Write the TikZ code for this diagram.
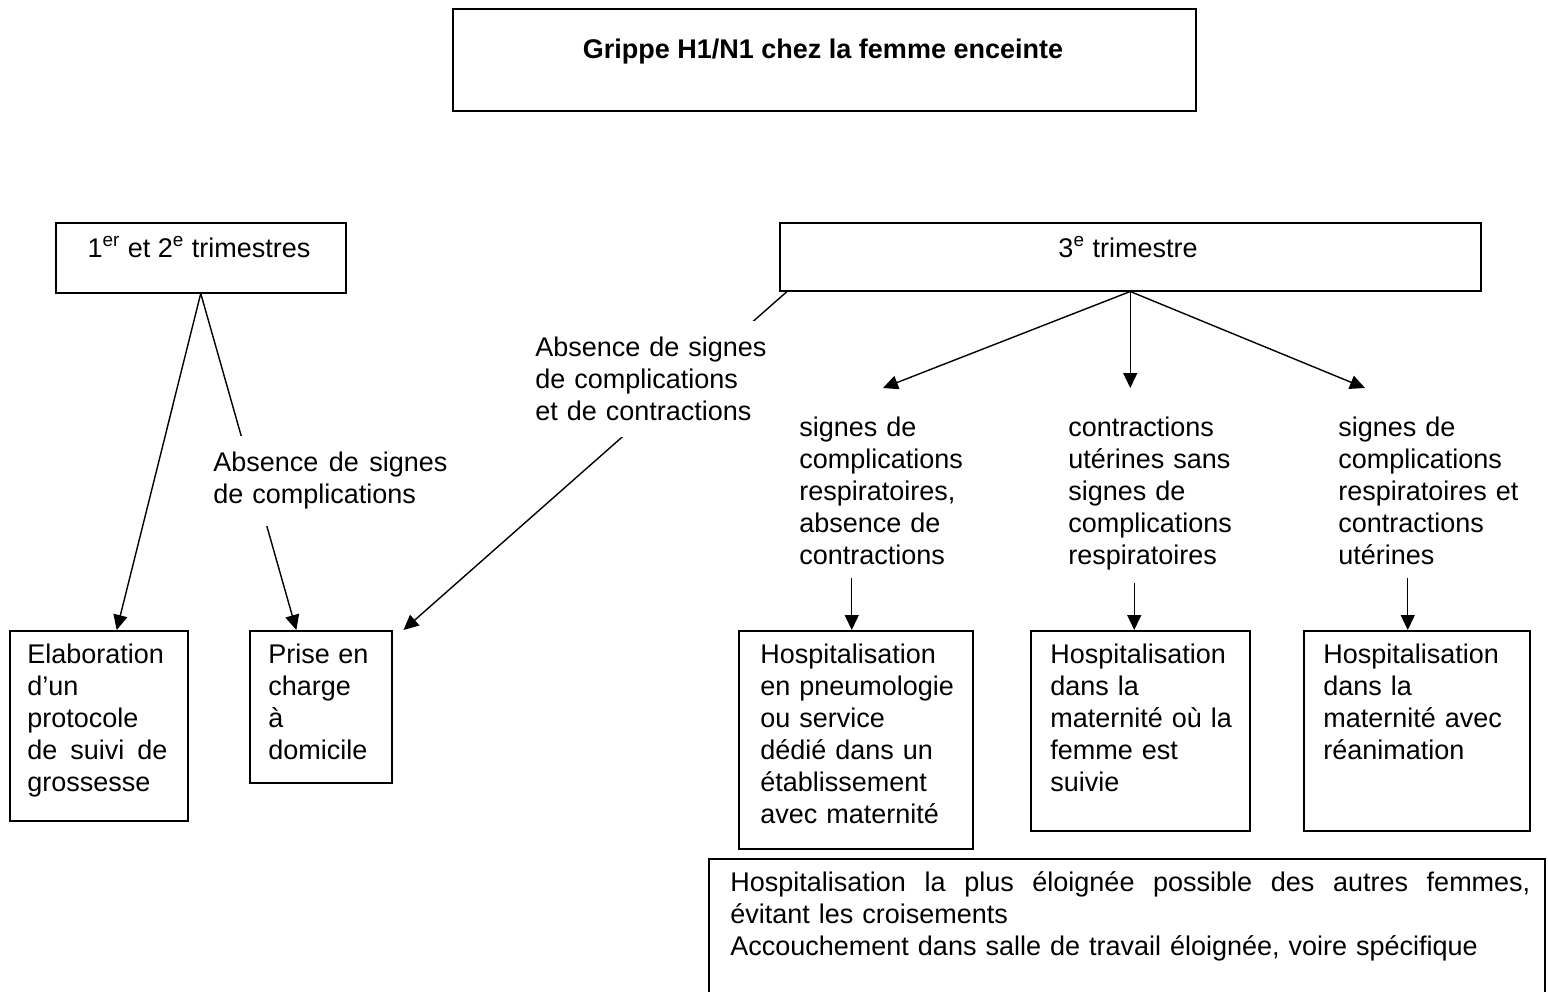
\documentclass[tikz,border=0pt]{standalone}
\usepackage{fontspec}
\setmainfont{Liberation Sans}
\usetikzlibrary{arrows.meta, calc}

\begin{document}
\begin{tikzpicture}[x=0.5pt, y=-0.5pt, >={Triangle[length=7.5pt,width=7pt]},
	box/.style={draw, line width=0.75pt, inner sep=0pt, anchor=north west},
	txt/.style={inner sep=0pt, anchor=north west, align=left, font=\fontsize{13.5}{16}\selectfont},
	lab/.style={txt, fill=white, inner ysep=8pt},
	arr/.style={->, line width=0.7pt}]
	\useasboundingbox (0,0) rectangle (1548,991);
	\clip (0,0) rectangle (1548,991);
	
	%boxes
	\node[box, minimum width=371.5pt, minimum height=51pt] (title) at (452,8)   {};
	\node[box, minimum width=145pt,   minimum height=35pt] (t12)   at (55,222)  {};
	\node[box, minimum width=350.5pt, minimum height=34pt] (t3)    at (779,222) {};
	\node[box, minimum width=89pt,    minimum height=95pt] (elab)  at (9,630)   {};
	\node[box, minimum width=71pt,    minimum height=76pt] (prise) at (249,630) {};
	\node[box, minimum width=117pt,   minimum height=109pt] (h1)   at (738,630) {};
	\node[box, minimum width=109.5pt, minimum height=100pt] (h2)   at (1030,630) {};
	\node[box, minimum width=113pt,   minimum height=100pt] (h3)   at (1303,630) {};
	\node[box, minimum width=418pt,   minimum height=75pt] (bot)   at (708,858) {};
	
	%box texts
	\node[txt, anchor=base] (titletxt) at (823,58) {\bfseries Grippe H1/N1 chez la femme enceinte};
	\node[txt, anchor=base] (t12txt) at (199,257) {1\textsuperscript{er} et 2\textsuperscript{e} trimestres};
	\node[txt, anchor=base] (t3txt)  at (1128,257) {3\textsuperscript{e} trimestre};
	\node[txt, text width=70pt] (elabtxt) at (27,644)
		{Elaboration\\d’un\\protocole\\de\hfill suivi\hfill de\\grossesse};
	\node[txt, text width=50pt] (prisetxt) at (268,644)
		{Prise\hfill en\\charge\\à\\domicile};
	\node[txt, text width=102pt] (h1txt) at (760,644)
		{Hospitalisation\\en pneumologie\\ou service\\dédié dans un\\établissement\\avec maternité};
	\node[txt, text width=95pt] (h2txt) at (1050,644)
		{Hospitalisation\\dans la\\maternité où la\\femme est\\suivie};
	\node[txt, text width=95pt] (h3txt) at (1323,644)
		{Hospitalisation\\dans la\\maternité avec\\réanimation};
	\node[txt, text width=400pt] (bottxt) at (730,871)
		{Hospitalisation\hfill la\hfill plus\hfill éloignée\hfill possible\hfill des\hfill autres\hfill femmes,\\
		évitant les croisements\\Accouchement dans salle de travail éloignée, voire spécifique};
	
	%conditions
	\node[txt, text width=85pt] (m1) at (799,417)
		{signes de\\complications\\respiratoires,\\absence de\\contractions};
	\node[txt, text width=85pt] (m2) at (1068,417)
		{contractions\\utérines sans\\signes de\\complications\\respiratoires};
	\node[txt, text width=92pt] (m3) at (1338,417)
		{signes de\\complications\\respiratoires et\\contractions\\utérines};
	
	%arrows
	\draw[arr] (t12.south) -- ($(elab.north west)!0.6!(elab.north east)$);
	\draw[arr] (t12.south) -- ($(prise.north west)!0.33!(prise.north east)$);
	\draw[arr] ([xshift=4pt]t3.south west) -- ([xshift=5.5pt]prise.north east);
	\draw[arr] (t3.south) -- ([shift={(84,-29)}]m1.north west);
	\draw[arr] (t3.south) -- ([yshift=14.5pt]t3.south |- m2.north);
	\draw[arr] (t3.south) -- ([shift={(27,-29)}]m3.north west);
	\draw[arr] ([yshift=-6pt,xshift=-2pt]m1.south -| h1.north) -- ([xshift=-2pt]h1.north);
	\draw[arr] ([yshift=-6pt,xshift=-3pt]m2.south -| h2.north) -- ([xshift=-3pt]h2.north);
	\draw[arr] ([yshift=-6pt,xshift=-4.5pt]m3.south -| h3.north) -- ([xshift=-4.5pt]h3.north);
	
	%labels on the lines
	\node[lab, text width=117pt] (a1) at (213,436)
		{Absence\hfill de\hfill signes\\de complications};
	\node[lab, text width=122pt] (a2) at (535,321)
		{Absence de signes\\de complications\\et de contractions};
	
\end{tikzpicture}
\end{document}
